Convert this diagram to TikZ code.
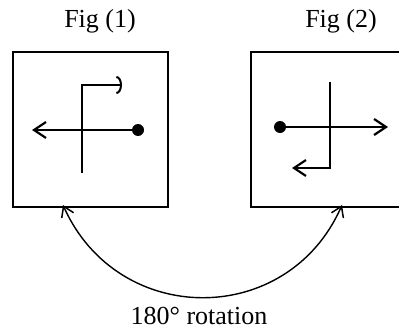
\documentclass[tikz,border=0pt]{standalone}
\usepackage{fontspec}
\setmainfont{Liberation Serif}
\usepackage{tikz}
\usetikzlibrary{arrows.meta,positioning,calc}

\begin{document}
\begin{tikzpicture}[
  x=0.5pt,y=-0.5pt,
  figbox/.style={rectangle,draw,line width=0.95pt,minimum width=77.5pt,
                 minimum height=77.5pt,inner sep=0pt},
  ptr/.style={line width=1pt,-{Straight Barb[length=6pt,width=8pt,line width=1.1pt]}},
  hook/.style={line width=1pt,-{Arc Barb[length=2.8pt,width=9pt,line width=1pt]}},
  pivot/.style={circle,fill,inner sep=0pt,minimum size=6pt},
  lbl/.style={font=\fontsize{13}{15}\selectfont,anchor=base,inner sep=0pt},
  turn/.style={line width=0.7pt,{Straight Barb[length=5pt,width=6.5pt,line width=0.75pt]}-{Straight Barb[length=5pt,width=6.5pt,line width=0.75pt]}},
]
\clip (0,0) rectangle (399,331);

\node[figbox] (box1) at (90.5,129.5) {};
\node[figbox] (box2) at (328.5,129.5) {};

\node[lbl] (cap1) at (100,28) {Fig (1)};
\node[lbl] (cap2) at (341,28) {Fig (2)};

% Fig (1)
\node[pivot] (dot1) at (138,130) {};
\coordinate (tip1) at (32,130);
\coordinate (bot1) at (82,173);
\coordinate (top1) at (82,85);
\coordinate (hk1) at (122,85);
\draw[ptr] (dot1.center) -- (tip1);
\draw[hook] (bot1) -- (top1) -- (hk1);

% Fig (2)
\node[pivot] (dot2) at (280,127) {};
\coordinate (tip2) at (388,127);
\coordinate (top2) at (330,82);
\coordinate (bot2) at (330,168);
\coordinate (hk2) at (292,168);
\draw[ptr] (dot2.center) -- (tip2);
\draw[ptr] (top2) -- (bot2) -- (hk2);

% rotation
\coordinate (a1) at (63,205);
\coordinate (a2) at (342,205);
\draw[turn] (a1) .. controls (118,328) and (288,328) .. (a2);
\node[lbl] (rot) at (199,324) {180° rotation};
\end{tikzpicture}
\end{document}
